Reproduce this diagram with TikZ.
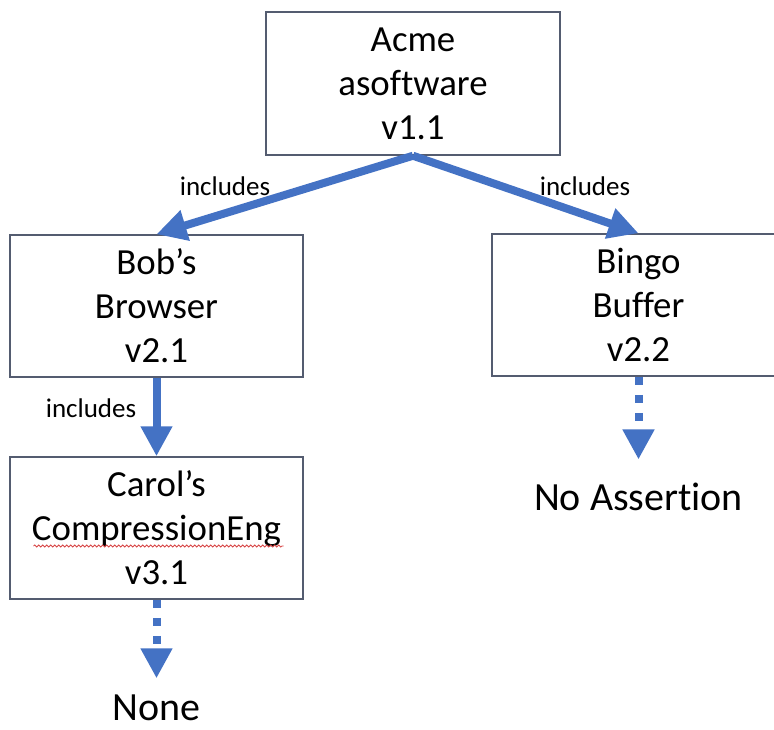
\documentclass[tikz,border=0pt]{standalone}
\usepackage{fontspec}
\setmainfont{Carlito}[Ligatures=CommonOff]
\usetikzlibrary{arrows.meta,decorations.pathmorphing,calc}
\definecolor{linkblue}{RGB}{68,114,196}
\definecolor{boxline}{RGB}{84,92,112}
\definecolor{spellred}{RGB}{215,70,70}
\begin{document}
\begin{tikzpicture}[x=1pt,y=-1pt,
  box/.style={draw=boxline, line width=1.5pt, minimum width=293pt,
    minimum height=142pt, inner sep=0pt, align=center,
    font=\fontsize{36.8}{44}\selectfont},
  link/.style={draw=linkblue, line width=8pt,
    -{Triangle[length=30pt,width=30pt]}},
  maybe/.style={link, dash pattern=on 8pt off 10pt},
  tag/.style={font=\fontsize{27}{32}\selectfont, inner sep=0pt},
  outcome/.style={font=\fontsize{40}{48}\selectfont, inner sep=0pt, anchor=base}]
\useasboundingbox (0,0) rectangle (774,730);

% packages
\node[box, minimum width=294pt, minimum height=143pt] (acme) at (413,83.5) {Acme\\asoftware\\v1.1};
\node[box] (bob)   at (156.5,306) {Bob’s\\Browser\\v2.1};
\node[box] (bingo) at (638.5,305) {Bingo\\Buffer\\v2.2};
\node[box] (carol) at (156.5,528) {Carol’s\\CompressionEng\\v3.1};

% spell-check underline under the long name
\draw[spellred, line width=0.8pt, decorate,
  decoration={snake, amplitude=1pt, segment length=4pt}]
  ($(carol.center)+(-123,18)$) -- ($(carol.center)+(127,18)$);

% unknown / empty dependencies
\node[outcome, outer ysep=16pt] (none)     at (156.5,720) {None};
\node[outcome, outer ysep=23pt] (noassert) at (638.5,510) {No Assertion};

% relationships
\draw[link] (acme.south) -- (bob.north);
\draw[link] (acme.south) -- (bingo.north);
\draw[link] (bob.south) -- (carol.north);
\draw[maybe] (carol.south) -- (none.north);
\draw[maybe] (bingo.south) -- (noassert.north);

% relationship labels
\node[tag] (inc1) at (225,186) {includes};
\node[tag] (inc2) at (585,186) {includes};
\node[tag] (inc3) at (91,408)  {includes};
\end{tikzpicture}
\end{document}
